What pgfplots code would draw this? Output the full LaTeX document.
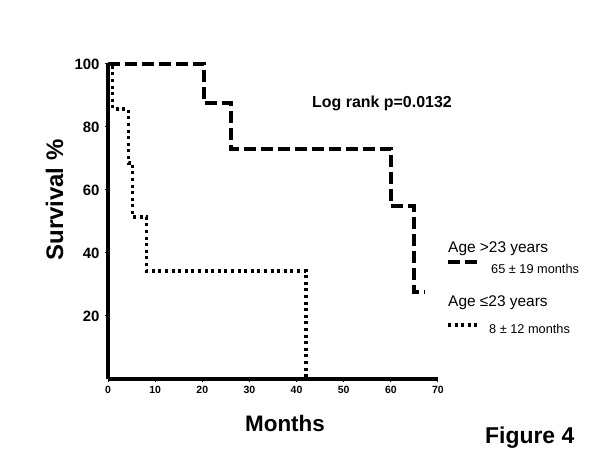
\documentclass[border=0pt]{standalone}
\usepackage{pgfplots}
\pgfplotsset{compat=1.18}
\usepackage{fontspec}
\setmainfont{Liberation Sans}
\begin{document}
\begin{tikzpicture}[x=1bp,y=1bp]
\useasboundingbox (0,0) rectangle (600,450);
\begin{axis}[
  at={(108bp,71bp)}, anchor=origin,
  x=4.714bp, y=3.15bp,
  xmin=0, xmax=70, ymin=0, ymax=100,
  axis lines*=left,
  axis line style={line width=4.5bp},
  xtick={0,10,...,70}, ytick={20,40,60,80,100},
  tick align=outside, major tick length=3bp,
  tick style={line width=1bp, black},
  /pgf/number format/assume math mode=true,
  xticklabel style={font=\fontsize{10.5}{10.5}\selectfont\bfseries, yshift=-1bp},
  yticklabel style={font=\fontsize{15}{15}\selectfont\bfseries, xshift=-2bp},
  clip=false,
]
\addplot[line width=4bp, dash pattern=on 12bp off 5bp, line cap=butt] coordinates {
  (0,100) (20.3,100) (20.3,87.5) (26,87.5) (26,73) (60,73) (60,55) (65,55) (65,27.5) (67.3,27.5)
};
\addplot[line width=3.3bp, dash pattern=on 3bp off 3.6bp, line cap=butt] coordinates {
  (0,100) (1,100) (1,85.7) (4.3,85.7) (4.3,68.6) (5.2,68.6) (5.2,51.4) (8.2,51.4) (8.2,34.3) (42,34.3) (42,0)
};
\end{axis}
\node[anchor=base, rotate=90, font=\fontsize{24}{24}\selectfont\bfseries] at (63,450-200) {Survival \%};
\node[anchor=base, font=\fontsize{22.5}{22.5}\selectfont\bfseries] at (285,450-432) {Months};
\node[anchor=base west, inner sep=0, font=\fontsize{16}{16}\selectfont\bfseries] at (312,450-108) {Log rank p=0.0132};
\node[anchor=base west, inner sep=0, font=\fontsize{23}{23}\selectfont\bfseries] at (485,450-444) {Figure 4};
\node[anchor=base west, inner sep=0, font=\fontsize{15.5}{15.5}\selectfont] at (448,450-253) {Age >23 years};
\draw[line width=4bp, dash pattern=on 12bp off 5bp] (448,450-262) -- (478,450-262);
\node[anchor=base west, inner sep=0, font=\fontsize{12.8}{12.8}\selectfont] at (491,450-274) {65 ± 19 months};
\node[anchor=base west, inner sep=0, font=\fontsize{15.5}{15.5}\selectfont] at (448,450-307) {Age ≤23 years};
\draw[line width=3.3bp, dash pattern=on 3bp off 3.6bp] (448,450-325) -- (478,450-325);
\node[anchor=base west, inner sep=0, font=\fontsize{12.8}{12.8}\selectfont] at (489,450-334) {8 ± 12 months};
\end{tikzpicture}
\end{document}
